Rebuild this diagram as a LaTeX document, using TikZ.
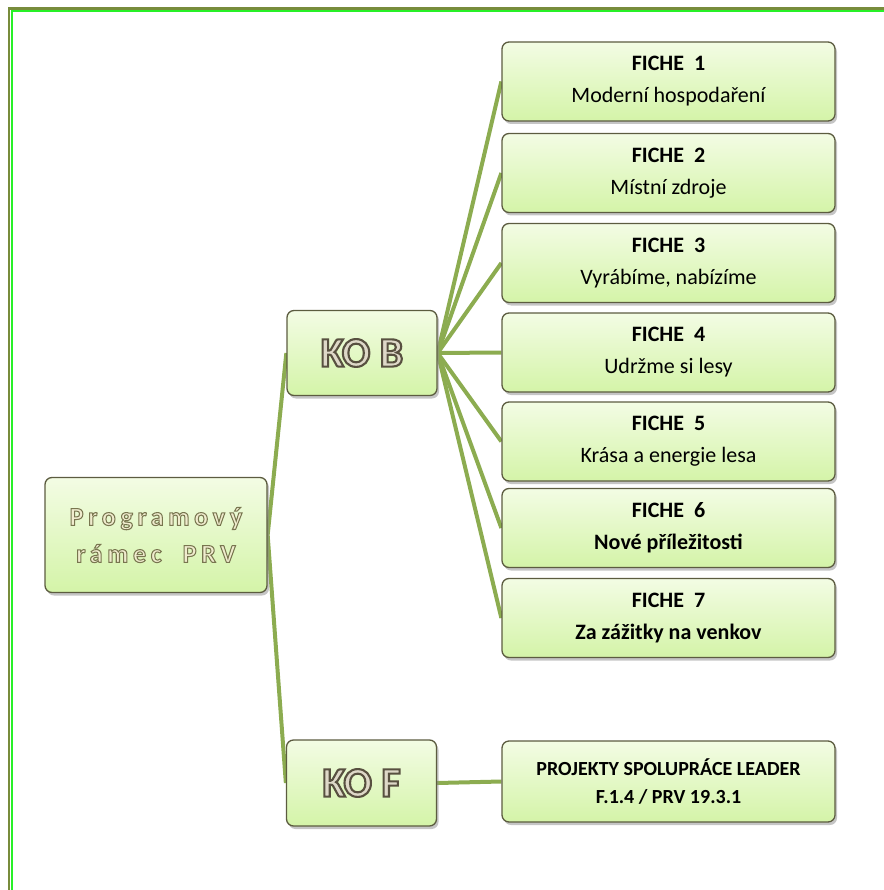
\documentclass[tikz,border=0pt]{standalone}
\usepackage{fontspec}
\setmainfont{Carlito}
\newfontfamily\widefont[LetterSpace=18,FakeBold=4]{Carlito Bold}
\newfontfamily\kofont[FakeBold=5]{Carlito Bold}
\usetikzlibrary{shadows,backgrounds}

\definecolor{twig}{RGB}{140,172,80}
\definecolor{boxedge}{RGB}{92,92,64}
\definecolor{leaftop}{RGB}{243,252,228}
\definecolor{leafbottom}{RGB}{212,244,168}
\definecolor{framegreen}{RGB}{40,240,40}
\definecolor{frameolive}{RGB}{120,140,60}
\definecolor{kofill}{RGB}{222,216,200}
\definecolor{rootfill}{RGB}{240,236,206}

% stroke colour of outlined letters
\newcommand{\kostroke}{\special{pdf:code 0.345 0.314 0.251 RG}}
\newcommand{\rootstroke}{\special{pdf:code 0.47 0.46 0.31 RG}}

\tikzset{
  leaf/.style = {draw=boxedge, line width=1.3pt, rounded corners=7pt,
    top color=leaftop, bottom color=leafbottom, align=center, inner sep=0pt,
    drop shadow={shadow xshift=2pt, shadow yshift=-3pt, fill=black!45, opacity=.5}},
  fiche/.style = {leaf, minimum width=333pt, minimum height=79pt,
    font=\fontsize{22}{32}\selectfont},
  kobox/.style = {leaf, minimum width=150pt, minimum height=85pt,
    font=\kofont\fontsize{42}{46}\selectfont},
  twigline/.style = {draw=twig, line width=4pt}
}

\begin{document}
\begin{tikzpicture}[x=1pt, y=-1pt]
    \useasboundingbox (0,0) rectangle (883,890);

    % frame
    \draw[frameolive, line width=2.5pt] (9,895) |- (890,8.5);
    \draw[framegreen, line width=2pt] (11.5,895) |- (890,11);

    \node[leaf, minimum width=222pt, minimum height=115pt,
          font=\widefont\fontsize{26}{37}\selectfont] (root) at (156,535)
          {\textcolor{rootfill}{\rootstroke Programový}\\
           \textcolor{rootfill}{\rootstroke rámec\ \ PRV}};

    \node[kobox] (kob) at (362,353) {\textcolor{kofill}{\kostroke KO B}};
    \node[kobox, minimum height=86pt] (kof) at (361.5,783) {\textcolor{kofill}{\kostroke KO F}};

    \node[fiche] (f1) at (668.5,81.5) {\textbf{FICHE\ \ 1}\\Moderní hospodaření};
    \node[fiche] (f2) at (668.5,173) {\textbf{FICHE\ \ 2}\\Místní zdroje};
    \node[fiche] (f3) at (668.5,263) {\textbf{FICHE\ \ 3}\\Vyrábíme, nabízíme};
    \node[fiche] (f4) at (668.5,352.5) {\textbf{FICHE\ \ 4}\\Udržme si lesy};
    \node[fiche] (f5) at (668.5,441.5) {\textbf{FICHE\ \ 5}\\Krása a energie lesa};
    \node[fiche] (f6) at (668.5,528) {\textbf{FICHE\ \ 6}\\\textbf{Nové příležitosti}};
    \node[fiche] (f7) at (668.5,618) {\textbf{FICHE\ \ 7}\\\textbf{Za zážitky na venkov}};

    \node[fiche, minimum height=81pt, font=\fontsize{20}{28}\selectfont\bfseries] (proj) at (668.5,781.5)
          {PROJEKTY SPOLUPRÁCE LEADER\\F.1.4 / PRV 19.3.1};

    \begin{scope}[on background layer]
        \path[twigline] (root.east) edge (kob.west);
        \path[twigline] (root.east) edge (kof.west);

        \path[twigline] (kob.east) edge (f1.west) edge (f2.west) edge (f3.west) edge (f4.west)
                                   edge (f5.west) edge (f6.west) edge (f7.west);

        \path[twigline] (kof.east) edge (proj.west);
    \end{scope}
\end{tikzpicture}
\end{document}
